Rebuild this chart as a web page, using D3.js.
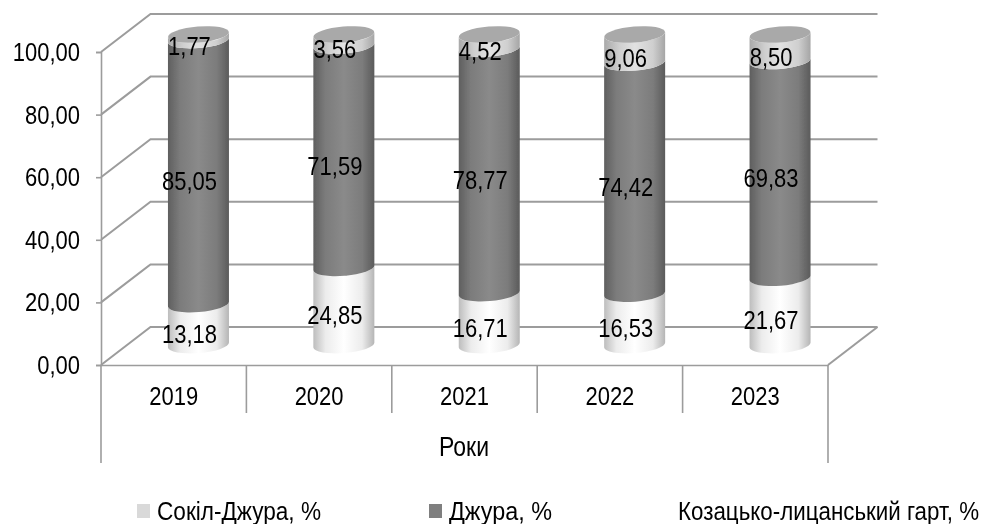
<!DOCTYPE html>
<html lang="en">
<head>
<meta charset="utf-8">
<title>Stacked cylinders</title>
<script src="https://d3js.org/d3.v7.min.js"></script>
<style>
  html, body { margin: 0; background: #fff; }
  svg { display: block; }
  text { font-family: "Liberation Sans", Arial, sans-serif; fill: #000; }
  .grid { stroke: #9c9c9c; stroke-width: 2; fill: none; }
  .domain, .tick line { stroke: #9c9c9c; stroke-width: 1.6; }
</style>
</head>
<body>
<svg id="chart" width="983" height="524"></svg>
<script>
// values
var years = ["2019", "2020", "2021", "2022", "2023"];
var sokil = [13.18, 24.85, 16.71, 16.53, 21.67];
var dzhura = [85.05, 71.59, 78.77, 74.42, 69.83];
var hart = [1.77, 3.56, 4.52, 9.06, 8.50];
var seriesNames = ["Сокіл-Джура, %", "Джура, %", "Козацько-лицанський гарт, %"];
var yTicks = [0, 20, 40, 60, 80, 100];
var xTitle = "Роки";

var comma = function(v) { return v.toFixed(2).replace(".", ","); };

var svg = d3.select("#chart");
var root = svg.append("g").attr("filter", "url(#soft)");

// 3d box: front plane and how far back the wall sits
var depthX = 49.5, depthY = -38;
var x = d3.scaleBand().domain(years).range([101, 828]);
var y = d3.scaleLinear().domain([0, 100]).range([365, 52]);
// cylinders stand in the middle of the depth
var cylY = d3.scaleLinear().domain([0, 100]).range([345, 34.5]);
var rx = 30.5, ry = 8, tilt = 2.5, rot = -4.7;
var stretch = 1.2; // the text in the picture is taller than normal

var defs = svg.append("defs");
defs.append("filter").attr("id", "soft")
    .attr("filterUnits", "userSpaceOnUse")
    .attr("x", 0).attr("y", 0)
    .attr("width", 983).attr("height", 524)
  .append("feGaussianBlur").attr("stdDeviation", 0.35);

function sideGradient(id, stops) {
  var g = defs.append("linearGradient").attr("id", id);
  stops.forEach(function(s) {
    g.append("stop").attr("offset", s[0]).attr("stop-color", s[1]);
  });
}
sideGradient("g0", [[0, "#bdbdbd"], [0.2, "#ececec"], [0.5, "#ffffff"], [0.8, "#ececec"], [1, "#b5b5b5"]]);
sideGradient("g1", [[0, "#5f5f5f"], [0.2, "#7c7c7c"], [0.5, "#8a8a8a"], [0.8, "#7c7c7c"], [1, "#5b5b5b"]]);
sideGradient("g2", [[0, "#a9a9a9"], [0.25, "#cfcfcf"], [0.5, "#e2e2e2"], [0.8, "#cfcfcf"], [1, "#a5a5a5"]]);

// gridlines: floor and left wall slants, then the back wall
var grid = root.append("g");
yTicks.forEach(function(t) {
  grid.append("path").attr("class", "grid")
      .attr("d", d3.line()([[101, y(t)], [101 + depthX, y(t) + depthY], [828 + depthX, y(t) + depthY]]));
});
grid.append("path").attr("class", "grid")
    .attr("d", d3.line()([[828, y(0)], [828 + depthX, y(0) + depthY]]));

// y axis
var yAxis = root.append("g").attr("transform", "translate(101,0)")
    .call(d3.axisLeft(y).tickValues(yTicks).tickFormat(comma).tickSizeOuter(0).tickSize(5).tickPadding(16));
yAxis.selectAll("text")
    .attr("font-size", 22)
    .attr("transform", "scale(1," + stretch + ")");

// x axis with the category dividers
var xAxis = root.append("g").attr("transform", "translate(0," + y(0) + ")")
    .call(d3.axisBottom(x).tickSize(0).tickSizeOuter(0));
xAxis.select(".domain").attr("stroke-width", 2);
xAxis.selectAll("text")
    .attr("y", 0).attr("dy", 0).attr("font-size", 22)
    .attr("transform", "translate(0,40) scale(1," + stretch + ")");
var dividers = root.append("g");
d3.range(1, years.length).forEach(function(i) {
  var dx = x.range()[0] + i * x.step();
  dividers.append("line").attr("x1", dx).attr("x2", dx)
      .attr("y1", y(0)).attr("y2", 413)
      .attr("stroke", "#9c9c9c").attr("stroke-width", 1.6);
});
x.range().forEach(function(dx) {
  dividers.append("line").attr("x1", dx).attr("x2", dx)
      .attr("y1", y(0)).attr("y2", 463)
      .attr("stroke", "#9c9c9c").attr("stroke-width", 1.6);
});

root.append("text").text(xTitle)
    .attr("text-anchor", "middle").attr("font-size", 23)
    .attr("transform", "translate(464,456) scale(1," + stretch + ")");

// stacked cylinders
var table = years.map(function(yr, i) {
  return { year: yr, s0: sokil[i], s1: dzhura[i], s2: hart[i] };
});
var stacked = d3.stack().keys(["s0", "s1", "s2"])(table);

function centerX(yr) {
  return x(yr) + x.bandwidth() / 2 + depthX / 2;
}
function segment(yr, v0, v1) {
  var c = centerX(yr), y0 = cylY(v0), y1 = cylY(v1);
  var arc = "A" + rx + " " + ry + " " + rot + " 0 ";
  return "M" + (c - rx) + " " + (y1 + tilt) + arc + "0 " + (c + rx) + " " + (y1 - tilt) +
    "L" + (c + rx) + " " + (y0 - tilt) + arc + "1 " + (c - rx) + " " + (y0 + tilt) + "Z";
}

var layers = root.append("g").selectAll("g").data(stacked).join("g")
    .attr("fill", function(d, i) { return "url(#g" + i + ")"; });
layers.selectAll("path").data(function(d) { return d; }).join("path")
    .attr("d", function(d) { return segment(d.data.year, d[0], d[1]); });

// top cap
root.append("g").selectAll("ellipse").data(years).join("ellipse")
    .attr("rx", rx).attr("ry", ry).attr("fill", "#a9a9a9")
    .attr("transform", function(d) {
      return "translate(" + centerX(d) + "," + cylY(100) + ") rotate(" + rot + ")";
    });

// data labels
stacked.forEach(function(layer) {
  root.append("g").selectAll("text").data(layer).join("text")
      .attr("text-anchor", "middle").attr("font-size", 22)
      .attr("transform", function(d) {
        return "translate(" + (centerX(d.data.year) - 9) + "," + (cylY((d[0] + d[1]) / 2) + 9 + 9) + ") scale(1," + stretch + ")";
      })
      .text(function(d) { return comma(d[1] - d[0]); });
});

// legend
var legendX = [157, 449, 678];
var legendW = [164, 103, 301];
var legendFill = ["#d9d9d9", "#7f7f7f", "#ffffff"];
var legend = root.append("g").selectAll("g").data(seriesNames).join("g")
    .attr("transform", function(d, i) { return "translate(" + legendX[i] + ",520)"; });
legend.append("rect")
    .attr("x", -20).attr("y", -16).attr("width", 13).attr("height", 14)
    .attr("fill", function(d, i) { return legendFill[i]; });
legend.append("text")
    .attr("font-size", 22)
    .attr("textLength", function(d, i) { return legendW[i]; })
    .attr("lengthAdjust", "spacingAndGlyphs")
    .attr("transform", "scale(1," + stretch + ")")
    .text(function(d) { return d; });
</script>
</body>
</html>
